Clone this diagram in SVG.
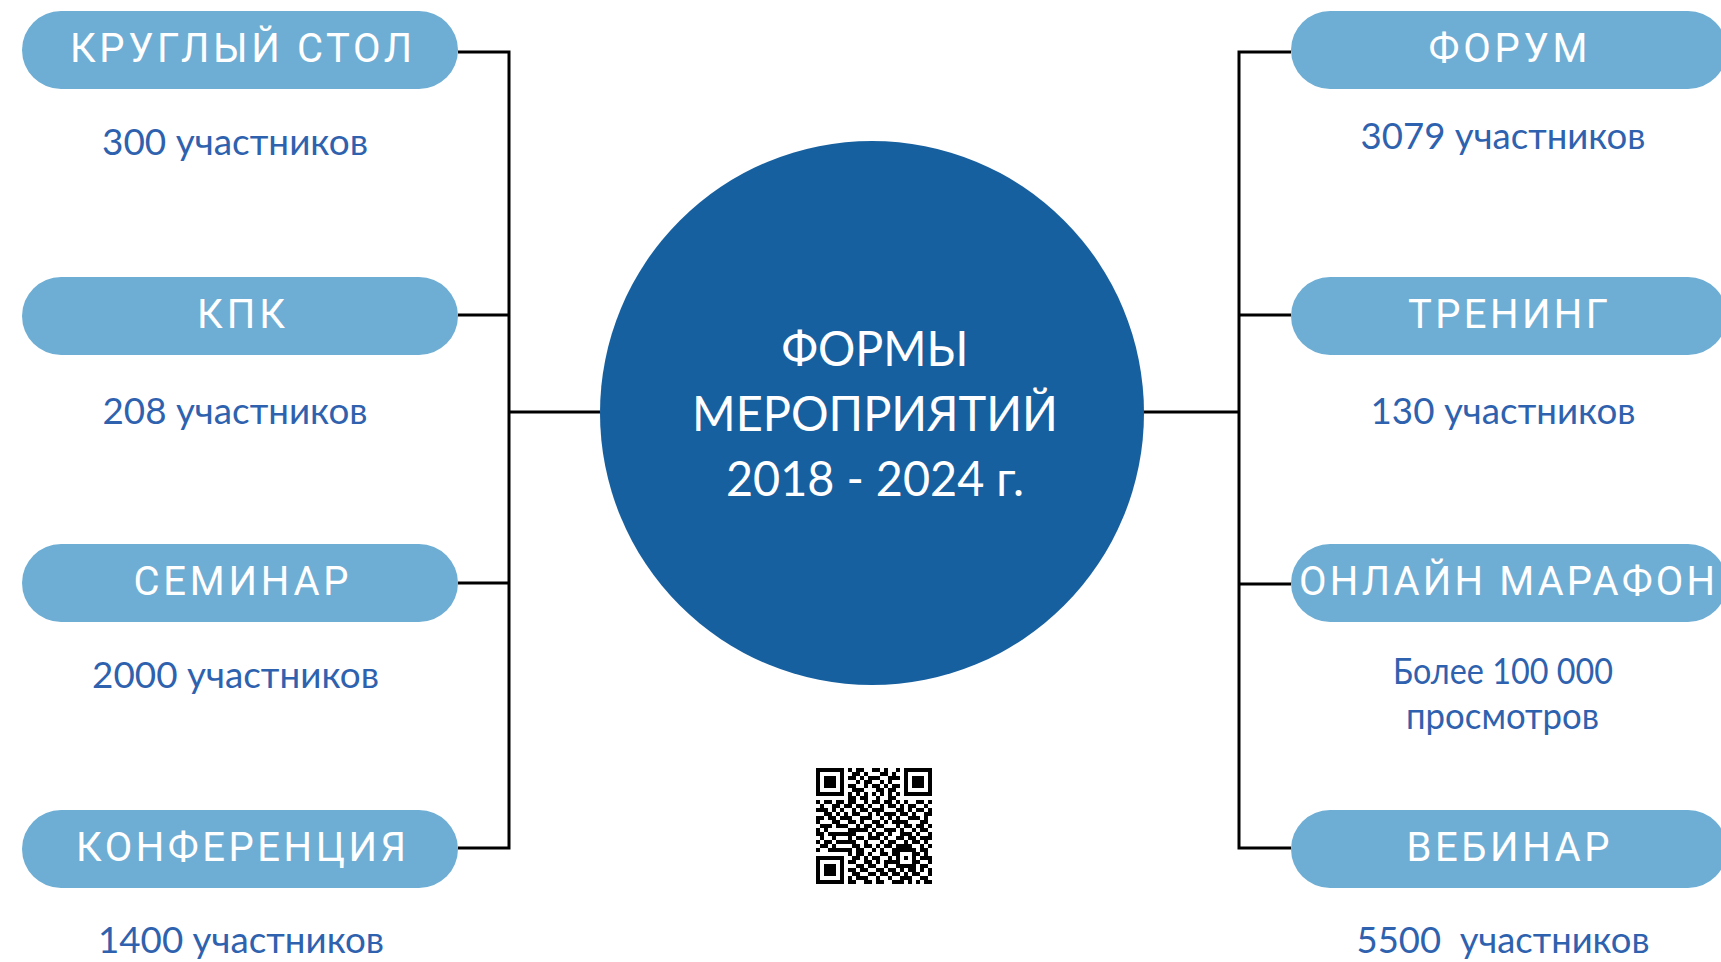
<svg xmlns="http://www.w3.org/2000/svg" width="1721" height="962" viewBox="0 0 1721 962">
<style>
.pill{fill:#6EAED4}
.pt{font-family:Roboto,"Open Sans","Liberation Sans",sans-serif;font-size:40px;fill:#fff;text-anchor:middle}
.ct{font-family:Lato,"Open Sans","Liberation Sans",sans-serif;font-size:36px;fill:#2F62AE;text-anchor:middle}
.mt{font-family:Lato,"Open Sans","Liberation Sans",sans-serif;font-size:48px;fill:#fff;text-anchor:middle}
.ln{stroke:#000;stroke-width:3;fill:none}
</style>
<rect width="1721" height="962" fill="#fff"/>
<g id="connectors" class="ln">
<path d="M458 52H509V848H458M458 315H509M458 583H509M509 412H600"/>
<path d="M1291 52H1239V848H1291M1291 315H1239M1291 584H1239M1239 412H1143"/>
</g>
<g id="center">
<circle cx="872" cy="413" r="272" fill="#1760A0"/>
<text class="mt" x="875" y="366" textLength="187" lengthAdjust="spacingAndGlyphs">ФОРМЫ</text>
<text class="mt" x="875" y="431" textLength="366" lengthAdjust="spacingAndGlyphs">МЕРОПРИЯТИЙ</text>
<text class="mt" x="875" y="496" textLength="298" lengthAdjust="spacingAndGlyphs">2018 - 2024 г.</text>
</g>
<g id="n-kruglyi">
<rect class="pill" x="22" y="11" width="436" height="78" rx="39"/>
<text class="pt" x="241" y="62" textLength="342" lengthAdjust="spacing">КРУГЛЫЙ СТОЛ</text>
<text class="ct" x="235" y="155" textLength="266" lengthAdjust="spacingAndGlyphs">300 участников</text>
</g>
<g id="n-kpk">
<rect class="pill" x="22" y="277" width="436" height="78" rx="39"/>
<text class="pt" x="241" y="328" textLength="88" lengthAdjust="spacing">КПК</text>
<text class="ct" x="235" y="424" textLength="265" lengthAdjust="spacingAndGlyphs">208 участников</text>
</g>
<g id="n-seminar">
<rect class="pill" x="22" y="544" width="436" height="78" rx="39"/>
<text class="pt" x="241" y="595" textLength="215" lengthAdjust="spacing">СЕМИНАР</text>
<text class="ct" x="235.5" y="688" textLength="287" lengthAdjust="spacingAndGlyphs">2000 участников</text>
</g>
<g id="n-konf">
<rect class="pill" x="22" y="810" width="436" height="78" rx="39"/>
<text class="pt" x="241" y="861" textLength="330" lengthAdjust="spacing">КОНФЕРЕНЦИЯ</text>
<text class="ct" x="241" y="953" textLength="286" lengthAdjust="spacingAndGlyphs">1400 участников</text>
</g>
<g id="n-forum">
<rect class="pill" x="1291" y="11" width="436" height="78" rx="39"/>
<text class="pt" x="1508" y="62" textLength="159" lengthAdjust="spacing">ФОРУМ</text>
<text class="ct" x="1503" y="149" textLength="285" lengthAdjust="spacingAndGlyphs">3079 участников</text>
</g>
<g id="n-trening">
<rect class="pill" x="1291" y="277" width="436" height="78" rx="39"/>
<text class="pt" x="1508" y="328" textLength="200" lengthAdjust="spacing">ТРЕНИНГ</text>
<text class="ct" x="1503" y="424" textLength="265" lengthAdjust="spacingAndGlyphs">130 участников</text>
</g>
<g id="n-marafon">
<rect class="pill" x="1291" y="544" width="436" height="78" rx="39"/>
<text class="pt" x="1507" y="595" textLength="416" lengthAdjust="spacing">ОНЛАЙН МАРАФОН</text>
<text class="ct" x="1503" y="684" textLength="220" lengthAdjust="spacingAndGlyphs">Более 100 000</text>
<text class="ct" x="1502.5" y="729" textLength="193" lengthAdjust="spacingAndGlyphs">просмотров</text>
</g>
<g id="n-vebinar">
<rect class="pill" x="1291" y="810" width="436" height="78" rx="39"/>
<text class="pt" x="1508" y="861" textLength="203" lengthAdjust="spacing">ВЕБИНАР</text>
<text class="ct" x="1503" y="953" textLength="293" lengthAdjust="spacingAndGlyphs" xml:space="preserve">5500  участников</text>
</g>
<g id="qr" transform="translate(816 768) scale(4)">
<path fill="none" stroke="#000" stroke-width="1.04" d="M0 .5h7M8 .5h1M10 .5h2M14 .5h2M17 .5h1M20 .5h1M22 .5h7M0 1.5h1M6 1.5h1M9 1.5h2M12 1.5h1M16 1.5h2M19 1.5h1M22 1.5h1M28 1.5h1M0 2.5h1M2 2.5h3M6 2.5h1M8 2.5h2M11 2.5h1M13 2.5h3M18 2.5h3M22 2.5h1M24 2.5h3M28 2.5h1M0 3.5h1M2 3.5h3M6 3.5h1M10 3.5h1M12 3.5h2M16 3.5h1M18 3.5h1M22 3.5h1M24 3.5h3M28 3.5h1M0 4.5h1M2 4.5h3M6 4.5h1M8 4.5h2M12 4.5h1M14 4.5h2M17 4.5h1M19 4.5h2M22 4.5h1M24 4.5h3M28 4.5h1M0 5.5h1M6 5.5h1M9 5.5h3M15 5.5h2M18 5.5h2M22 5.5h1M28 5.5h1M0 6.5h7M8 6.5h1M10 6.5h1M12 6.5h1M14 6.5h1M16 6.5h1M18 6.5h1M20 6.5h1M22 6.5h7M8 7.5h2M11 7.5h2M15 7.5h1M18 7.5h2M0 8.5h1M2 8.5h2M5 8.5h2M8 8.5h2M12 8.5h1M14 8.5h2M17 8.5h2M20 8.5h1M22 8.5h1M25 8.5h2M28 8.5h1M1 9.5h1M4 9.5h2M7 9.5h2M10 9.5h2M13 9.5h1M16 9.5h1M18 9.5h2M21 9.5h1M23 9.5h2M27 9.5h1M0 10.5h3M4 10.5h1M6 10.5h1M9 10.5h1M11 10.5h2M14 10.5h3M20 10.5h2M23 10.5h1M25 10.5h2M28 10.5h1M2 11.5h2M5 11.5h1M7 11.5h1M9 11.5h2M13 11.5h1M15 11.5h1M17 11.5h3M21 11.5h2M24 11.5h1M27 11.5h2M0 12.5h2M3 12.5h2M6 12.5h3M11 12.5h3M16 12.5h1M18 12.5h1M20 12.5h1M23 12.5h3M27 12.5h1M0 13.5h1M4 13.5h2M8 13.5h2M11 13.5h1M14 13.5h2M17 13.5h1M19 13.5h4M26 13.5h2M1 14.5h3M5 14.5h3M10 14.5h1M12 14.5h2M15 14.5h2M20 14.5h1M22 14.5h2M25 14.5h2M28 14.5h1M0 15.5h1M2 15.5h1M8 15.5h5M14 15.5h1M17 15.5h3M21 15.5h1M24 15.5h1M26 15.5h2M0 16.5h2M3 16.5h6M9 16.5h1M13 16.5h1M15 16.5h2M18 16.5h1M21 16.5h3M25 16.5h1M28 16.5h1M1 17.5h1M4 17.5h1M8 17.5h1M10 17.5h2M13 17.5h3M17 17.5h1M20 17.5h2M23 17.5h2M26 17.5h3M0 18.5h1M2 18.5h2M5 18.5h5M12 18.5h1M16 18.5h1M18 18.5h2M22 18.5h1M24 18.5h2M27 18.5h1M1 19.5h2M4 19.5h1M9 19.5h2M12 19.5h2M15 19.5h1M17 19.5h2M20 19.5h4M26 19.5h1M28 19.5h1M0 20.5h1M3 20.5h6M10 20.5h2M14 20.5h1M16 20.5h1M19 20.5h6M26 20.5h2M8 21.5h1M10 21.5h2M13 21.5h1M16 21.5h2M19 21.5h2M24 21.5h2M27 21.5h1M0 22.5h7M9 22.5h2M12 22.5h1M14 22.5h2M18 22.5h1M20 22.5h1M22 22.5h1M24 22.5h1M26 22.5h3M0 23.5h1M6 23.5h1M8 23.5h2M12 23.5h2M15 23.5h1M17 23.5h4M24 23.5h2M28 23.5h1M0 24.5h1M2 24.5h3M6 24.5h1M10 24.5h2M13 24.5h2M17 24.5h1M20 24.5h5M26 24.5h2M0 25.5h1M2 25.5h3M6 25.5h1M8 25.5h2M11 25.5h2M15 25.5h2M18 25.5h2M21 25.5h1M23 25.5h2M26 25.5h1M28 25.5h1M0 26.5h1M2 26.5h3M6 26.5h1M9 26.5h2M13 26.5h2M16 26.5h2M19 26.5h2M22 26.5h1M24 26.5h2M28 26.5h1M0 27.5h1M6 27.5h1M8 27.5h1M10 27.5h3M15 27.5h1M18 27.5h1M21 27.5h3M26 27.5h2M0 28.5h7M8 28.5h2M12 28.5h2M15 28.5h2M19 28.5h3M23 28.5h1M25 28.5h1M27 28.5h2"/>
</g>
</svg>
